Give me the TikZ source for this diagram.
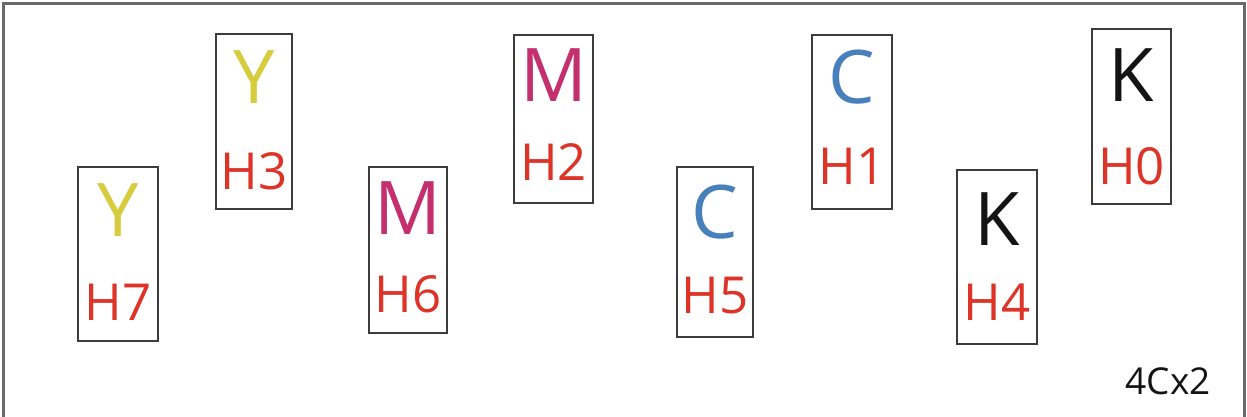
\documentclass[tikz,border=0pt]{standalone}
\usepackage{fontspec}
\setmainfont{Open Sans}
\definecolor{ycol}{RGB}{214,204,62}
\definecolor{mcol}{RGB}{196,48,110}
\definecolor{ccol}{RGB}{72,128,188}
\definecolor{kcol}{RGB}{20,20,20}
\definecolor{hcol}{RGB}{222,52,40}
\definecolor{boxcol}{RGB}{60,60,60}
\definecolor{framecol}{RGB}{105,105,105}
\begin{document}
\begin{tikzpicture}[x=1pt,y=-1pt,
  headbox/.style={draw=boxcol,line width=1.8pt,inner sep=0pt},
  big/.style={font=\fontsize{74}{74}\selectfont,inner sep=0pt},
  lab/.style={font=\fontsize{51}{51}\selectfont,text=hcol,inner sep=0pt},
  note/.style={font=\fontsize{37}{37}\selectfont,text=kcol,inner sep=0pt}]
\useasboundingbox (0,0) rectangle (1247,416);
\fill[white] (0,0) rectangle (1247,416);
\draw[framecol,line width=2.5pt] (3.5,420) -- (3.5,3.5) -- (1244.5,3.5) -- (1244.5,420);
% name / x-center / top / width / height / letter offset / label offset
\foreach \n/\cx/\ty/\w/\h/\lo/\to/\ltr/\col/\lbl in {
  h7/118/166/80/174/44/136/Y/ycol/H7,
  h3/254/33/76/175/44/138/Y/ycol/H3,
  h6/408/166/78/166/42/128/M/mcol/H6,
  h2/553.5/34/79/168/41/128/M/mcol/H2,
  h5/715/166/76/170/46/130/C/ccol/H5,
  h1/852/34/80/174/43/132/C/ccol/H1,
  h4/997/169/80/174/50/133/K/kcol/H4,
  h0/1131.5/28/79/175/47/138/K/kcol/H0}{
  \node[headbox,anchor=north,minimum width=\w pt,minimum height=\h pt] (\n) at (\cx,\ty) {};
  \node[big,text=\col] (\n l) at ([yshift=-\lo pt]\n.north) {\ltr};
  \node[lab] (\n t) at ([yshift=-\to pt]\n.north) {\lbl};
}
\node[note] (nt) at (1168,381) {4Cx2};
\end{tikzpicture}
\end{document}
